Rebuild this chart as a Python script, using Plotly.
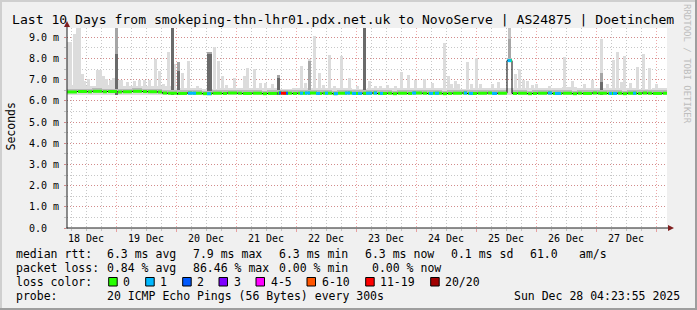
import plotly.graph_objects as go
import pandas as pd

# ---------------- data ----------------
title_text = "Last 10 Days from smokeping-thn-lhr01.pdx.net.uk to NovoServe | AS24875 | Doetinchem"
window_start = "2025-12-18 04:23:55"
window_end = "2025-12-28 04:23:55"
y_axis_title = "Seconds"

y_tick_values = [0, 1, 2, 3, 4, 5, 6, 7, 8, 9]
y_tick_labels = ["0.0\u00a0\u00a0", "1.0 m", "2.0 m", "3.0 m", "4.0 m",
                 "5.0 m", "6.0 m", "7.0 m", "8.0 m", "9.0 m"]

# continuous background smoke (upper edge, ms), one value per 6 hours
base_smoke_top = [6.75, 6.72, 6.75, 6.70, 6.72, 6.70, 6.68,
                  6.62, 6.60, 6.58, 6.60, 6.62, 6.60, 6.60, 6.58, 6.60,
                  6.62, 6.62, 6.60, 6.58, 6.60, 6.62, 6.60, 6.60, 6.62,
                  6.60, 6.58, 6.60, 6.60, 6.62, 6.60, 6.60, 6.62, 6.65,
                  6.60, 6.62, 6.60, 6.60, 6.58, 6.60]

# median rtt (ms), one value per 2 hours
median_rtt = [6.42, 6.42, 6.44, 6.44, 6.43, 6.45, 6.45, 6.43, 6.44, 6.44,
              6.42, 6.43, 6.43, 6.45, 6.45, 6.44, 6.43, 6.43, 6.42,
              6.37, 6.36, 6.36, 6.35, 6.35, 6.37, 6.36, 6.36, 6.34, 6.34,
              6.36, 6.36, 6.35, 6.37, 6.37, 6.36, 6.35, 6.35, 6.36, 6.36,
              6.34, 6.35, 6.35, 6.37, 6.36, 6.36, 6.35, 6.36, 6.36, 6.37,
              6.37, 6.35, 6.36, 6.36, 6.34, 6.36, 6.36, 6.37, 6.35, 6.35,
              6.36, 6.36, 6.37, 6.35, 6.35, 6.36, 6.34, 6.36, 6.36, 6.35,
              6.37, 6.37, 6.36, 6.35, 6.36, 6.36, 6.34, 6.35, 6.36, 6.36,
              6.37, 6.35, 6.35, 6.36, 6.36, 6.37, 6.35, 6.36, 6.36,
              7.90,
              6.35, 6.36, 6.36, 6.34, 6.35, 6.36, 6.36, 6.37, 6.35, 6.35,
              6.36, 6.36, 6.34, 6.36, 6.35, 6.35, 6.37, 6.36, 6.36, 6.35,
              6.35, 6.36, 6.34, 6.36, 6.36, 6.35, 6.37, 6.36, 6.35, 6.35, 6.36]

# smoke spikes: hours after window start, top of light / medium / dark smoke (ms)
spike_hour = [0.6, 1.4, 3.0, 4.2, 5.0, 6.0, 7.0, 8.6, 12.2, 13.4, 14.6, 15.8, 17.2, 18.4,
              19.6, 21.0, 21.8, 24.0, 26.8, 28.8, 30.8, 32.8, 35.2, 36.8, 38.4, 40.6,
              42.0, 43.0, 44.6, 46.2, 48.4, 52.0, 56.6, 57.4, 58.8, 60.4, 62.0, 63.6,
              66.8, 70.8, 72.0, 74.8, 77.2, 79.2, 82.0, 84.4, 93.8, 95.2, 96.8, 98.8,
              100.8, 102.4, 105.0, 106.8, 109.8, 112.8, 116.0, 119.0, 121.0, 123.2,
              125.2, 128.0, 131.2, 133.8, 136.6, 139.4, 143.0, 146.0, 150.8, 152.6,
              153.8, 155.2, 156.6, 160.2, 161.6, 163.8, 165.2, 170.0, 172.6, 179.4,
              180.8, 182.4, 184.0, 186.0, 187.6, 192.8, 198.8, 202.2, 206.8, 210.0,
              213.6, 216.0, 218.4, 220.2, 221.6, 223.0, 225.2, 228.0, 230.4, 233.0, 235.6]
spike_max = [8.77, 8.77, 9.16, 9.5, 9.5, 7.26, 6.95, 7.03, 7.47, 7.47, 7.15, 7.05, 7.0, 7.1,
             9.5, 7.0, 7.0, 6.88, 6.95, 6.97, 6.98, 6.98, 7.99, 7.42, 6.8, 8.29,
             9.5, 7.74, 7.82, 7.3, 7.9, 6.7, 8.3, 8.3, 8.54, 7.9, 7.18, 6.75,
             7.1, 7.18, 7.54, 7.5, 6.85, 6.85, 6.8, 7.22, 7.66, 6.85, 7.98, 9.05,
             7.33, 6.75, 8.17, 6.7, 8.1, 7.07, 6.7, 9.5, 6.95, 6.7,
             6.7, 6.75, 6.7, 7.35, 7.22, 7.0, 7.03, 6.85, 8.73, 7.18,
             6.8, 6.95, 6.78, 7.82, 6.8, 8.0, 6.8, 6.8, 6.9, 7.27,
             7.5, 7.0, 6.95, 6.75, 6.78, 6.7, 8.06, 6.95, 6.8, 6.97,
             8.92, 6.8, 7.94, 8.3, 6.9, 8.1, 6.85, 7.58, 8.2, 7.56, 6.8]
spike_mid = {19.6: 9.5, 42.0: 9.5, 44.6: 7.82, 56.6: 8.3, 57.4: 8.3,
             84.4: 7.22, 96.8: 7.9, 119.0: 9.5, 213.6: 7.3}
spike_dark = {19.6: 8.2, 42.0: 9.5, 44.6: 7.42, 56.6: 8.2, 57.4: 8.2,
              84.4: 7.1, 119.0: 9.5, 213.6: 6.9}

# one column where the whole smoke sits above the usual level
lifted_hour = [177.0]
lifted_low = [7.9]
lifted_mid = [8.9]
lifted_max = [9.5]

# packet-loss coloured stretches of the median line (hours after start)
loss_start = [48.4, 56.0, 84.8, 85.6, 87.6, 93.2, 95.2, 99.6, 103.2, 106.8, 111.2, 114.0,
              116.4, 119.6, 122.8, 125.2, 138.0, 144.8, 147.2, 158.8, 160.8, 170.0,
              176.2, 192.4, 195.2, 216.8, 218.4, 226.4]
loss_end = [51.6, 57.6, 85.6, 87.6, 88.4, 94.4, 97.2, 101.2, 104.4, 108.4, 113.2, 115.6,
            118.0, 122.0, 124.0, 126.4, 139.6, 146.4, 148.8, 160.0, 162.4, 172.0,
            177.8, 194.0, 197.6, 218.0, 220.0, 227.6]
loss_level = ["1", "1", "2", "11-19", "2", "1", "1", "1", "1", "1", "1", "1",
              "1", "1", "1", "1", "1", "1", "1", "1", "1", "1",
              "1", "1", "1", "1", "1", "1"]

loss_levels = ["0", "1", "2", "3", "4-5", "6-10", "11-19", "20/20"]
loss_colors = ["#26ff00", "#00b8ff", "#0059ff", "#7e00ff", "#ff00ff", "#ff5500", "#ff0000", "#a10000"]

stat_median = ["median rtt:", "6.3 ms avg", "7.9 ms max", "6.3 ms min", "6.3 ms now",
               "0.1 ms sd", "61.0", "am/s"]
stat_loss = ["packet loss:", "0.84 % avg", "86.46 % max", "0.00 % min", "0.00 % now"]
probe_text = ["probe:", "20 ICMP Echo Pings (56 Bytes) every 300s"]
stamp_text = "Sun Dec 28 04:23:55 2025"
loss_label = "loss color:"
watermark = "RRDTOOL / TOBI OETIKER"

# ---------------- layout helpers ----------------
W, H = 697, 310
L, R, T, B = 67, 30, 28, 82
PW, PH = W - L - R, H - T - B


def xp(px):
    return (px - L) / PW


def yp(py):
    return (H - B - py) / PH


FONT = "DejaVu Sans Mono"
t0 = pd.Timestamp(window_start)
MS_H = 3600 * 1000


def at(h):
    return t0 + pd.Timedelta(hours=h)


LIGHT = "#dcdcdc"
MID = "#a6a6a6"
DARK = "#6a6a6a"

fig = go.Figure()

# background smoke
fig.add_trace(go.Bar(
    x=[at(6 * i + 3) for i in range(len(base_smoke_top))],
    y=[v - 6.28 for v in base_smoke_top], base=6.28,
    width=6 * MS_H, marker=dict(color=LIGHT, line=dict(width=0)), hoverinfo="skip"))

# light smoke spikes
fig.add_trace(go.Bar(
    x=[at(h) for h in spike_hour], y=[v - 6.3 for v in spike_max], base=6.3,
    width=1.2 * MS_H, marker=dict(color=LIGHT, line=dict(width=0)), hoverinfo="skip"))
fig.add_trace(go.Bar(
    x=[at(h) for h in lifted_hour], y=[a - b for a, b in zip(lifted_max, lifted_low)],
    base=lifted_low, width=1.2 * MS_H, marker=dict(color="#c4c4c4", line=dict(width=0)),
    hoverinfo="skip"))
# medium smoke
mh = list(spike_mid.keys())
fig.add_trace(go.Bar(
    x=[at(h) for h in mh], y=[spike_mid[h] - 6.3 for h in mh], base=6.3,
    width=1.2 * MS_H, marker=dict(color=MID, line=dict(width=0)), hoverinfo="skip"))
fig.add_trace(go.Bar(
    x=[at(h) for h in lifted_hour], y=[a - b for a, b in zip(lifted_mid, lifted_low)],
    base=lifted_low, width=1.2 * MS_H, marker=dict(color=MID, line=dict(width=0)),
    hoverinfo="skip"))
# dark smoke
dh = list(spike_dark.keys())
fig.add_trace(go.Bar(
    x=[at(h) for h in dh], y=[spike_dark[h] - 6.3 for h in dh], base=6.3,
    width=1.2 * MS_H, marker=dict(color=DARK, line=dict(width=0)), hoverinfo="skip"))

# dense smoke right around the median
fig.add_trace(go.Bar(
    x=[at(2 * i + 1) for i in range(len(median_rtt))],
    y=[0.17] * len(median_rtt), base=[m - 0.03 for m in median_rtt],
    width=2 * MS_H, marker=dict(color="#b8b8b8", line=dict(width=0)), hoverinfo="skip"))

# black median (visible at steps)
fig.add_trace(go.Scatter(
    x=[at(2 * i) for i in range(len(median_rtt) + 1)],
    y=median_rtt + [median_rtt[-1]], mode="lines", line=dict(color="#000000", width=1, shape="hv"),
    hoverinfo="skip"))

# green median segments
gx, gy = [], []
for i, m in enumerate(median_rtt):
    s = 2 * i + (0.4 if i > 0 and m != median_rtt[i - 1] else 0.0)
    gx += [at(s), at(2 * i + 2), None]
    gy += [m, m, None]
fig.add_trace(go.Scatter(x=gx, y=gy, mode="lines",
                         line=dict(color=loss_colors[0], width=3), hoverinfo="skip"))

# loss coloured segments
for lvl, col in zip(loss_levels[1:], loss_colors[1:]):
    lx, ly = [], []
    for s, e, l in zip(loss_start, loss_end, loss_level):
        if l != lvl:
            continue
        m = median_rtt[int(((s + e) / 2) // 2)]
        lx += [at(s), at(e), None]
        ly += [m, m, None]
    if lx:
        fig.add_trace(go.Scatter(x=lx, y=ly, mode="lines",
                                 line=dict(color=col, width=3), hoverinfo="skip"))

MGRID = "rgba(222,80,80,0.5)"
GRID = "rgba(143,143,143,0.5)"

fig.update_layout(
    width=W, height=H, margin=dict(l=L, r=R, t=T, b=B),
    paper_bgcolor="#f0f0f0", plot_bgcolor="#ffffff",
    showlegend=False, barmode="overlay", bargap=0,
    font=dict(family=FONT, size=10, color="#000000"),
    xaxis=dict(
        type="date", range=[window_start, window_end],
        tick0="2025-12-18", dtick=86400000, ticklabelmode="period", tickformat="%d %b",
        showgrid=True, gridcolor=MGRID, griddash="1px,2px", gridwidth=1,
        ticks="outside", ticklen=3, tickcolor=MGRID,
        minor=dict(dtick=6 * MS_H, tick0="2025-12-18", showgrid=True, gridcolor=GRID,
                   griddash="1px,2px", ticks="outside", ticklen=2, tickcolor=GRID),
        showline=False, zeroline=False, layer="above traces",
        ticklabelstandoff=-2,
        tickfont=dict(family=FONT, size=10, color="#000000")),
    yaxis=dict(
        range=[0, PH / 21.19], tickvals=y_tick_values, ticktext=y_tick_labels,
        showgrid=True, gridcolor=MGRID, griddash="1px,2px",
        ticks="outside", ticklen=2, tickcolor=MGRID,
        minor=dict(dtick=0.5, tick0=0, showgrid=True, gridcolor=GRID, griddash="1px,2px",
                   ticks="outside", ticklen=2, tickcolor=GRID),
        showline=False, zeroline=False, layer="above traces",
        ticklabelstandoff=3,
        tickfont=dict(family=FONT, size=10, color="#000000")),
)

shapes = []
# frame shades
shapes.append(dict(type="rect", xref="paper", yref="paper", x0=xp(0), x1=xp(W), y0=yp(0), y1=yp(2),
                   fillcolor="#cfcfcf", line=dict(width=0), layer="below"))
shapes.append(dict(type="rect", xref="paper", yref="paper", x0=xp(0), x1=xp(2), y0=yp(0), y1=yp(H),
                   fillcolor="#cfcfcf", line=dict(width=0), layer="below"))
shapes.append(dict(type="rect", xref="paper", yref="paper", x0=xp(0), x1=xp(W), y0=yp(H - 2), y1=yp(H),
                   fillcolor="#9e9e9e", line=dict(width=0), layer="below"))
shapes.append(dict(type="rect", xref="paper", yref="paper", x0=xp(W - 2), x1=xp(W), y0=yp(0), y1=yp(H),
                   fillcolor="#9e9e9e", line=dict(width=0), layer="below"))
# axes with arrows
shapes.append(dict(type="line", xref="paper", yref="paper", x0=xp(L), x1=xp(L), y0=yp(228.5), y1=yp(24),
                   line=dict(color="#1f1f1f", width=1)))
shapes.append(dict(type="line", xref="paper", yref="paper", x0=xp(L - 0.5), x1=xp(671), y0=yp(228), y1=yp(228),
                   line=dict(color="#1f1f1f", width=1)))
shapes.append(dict(type="path", xref="paper", yref="paper",
                   path=f"M {xp(64)} {yp(27)} L {xp(70)} {yp(27)} L {xp(67)} {yp(21)} Z",
                   fillcolor="#7f1f1f", line=dict(width=0)))
shapes.append(dict(type="path", xref="paper", yref="paper",
                   path=f"M {xp(668)} {yp(225)} L {xp(668)} {yp(231)} L {xp(674)} {yp(228)} Z",
                   fillcolor="#7f1f1f", line=dict(width=0)))

annotations = []


def txt(s, px, py, size=11.5, anchor="left", color="#000000", angle=0):
    annotations.append(dict(text=s, xref="paper", yref="paper", x=xp(px), y=yp(py),
                            xanchor=anchor, yanchor="middle", showarrow=False, textangle=angle,
                            font=dict(family=FONT, size=size, color=color), borderpad=0, borderwidth=0))


txt(title_text, 12, 19, size=13.1)
txt(y_axis_title, 10.5, 127, angle=-90, anchor="center")
txt(watermark, 687, 64, size=9, anchor="center", color="#bdbdbd", angle=90)

med_x = [16, 107, 193, 279, 365, 451, 530, 579]
for s, px in zip(stat_median, med_x):
    txt(s, px, 254)
loss_x = [16, 107, 193, 279, 372]
for s, px in zip(stat_loss, loss_x):
    txt(s, px, 268)
txt(loss_label, 16, 282)
sq_x = [108.7, 145.7, 182.7, 219, 256, 307, 365.7, 430.7]
for lvl, col, px in zip(loss_levels, loss_colors, sq_x):
    shapes.append(dict(type="rect", xref="paper", yref="paper", x0=xp(px), x1=xp(px + 8.5),
                       y0=yp(286), y1=yp(277.5), fillcolor=col, line=dict(color="#000000", width=1)))
    txt(lvl, px + 14.5, 282)
txt(probe_text[0], 16, 296)
txt(probe_text[1], 107, 296)
txt(stamp_text, 680, 296, anchor="right")

fig.update_layout(shapes=shapes, annotations=annotations)
fig.write_html("out.html")
